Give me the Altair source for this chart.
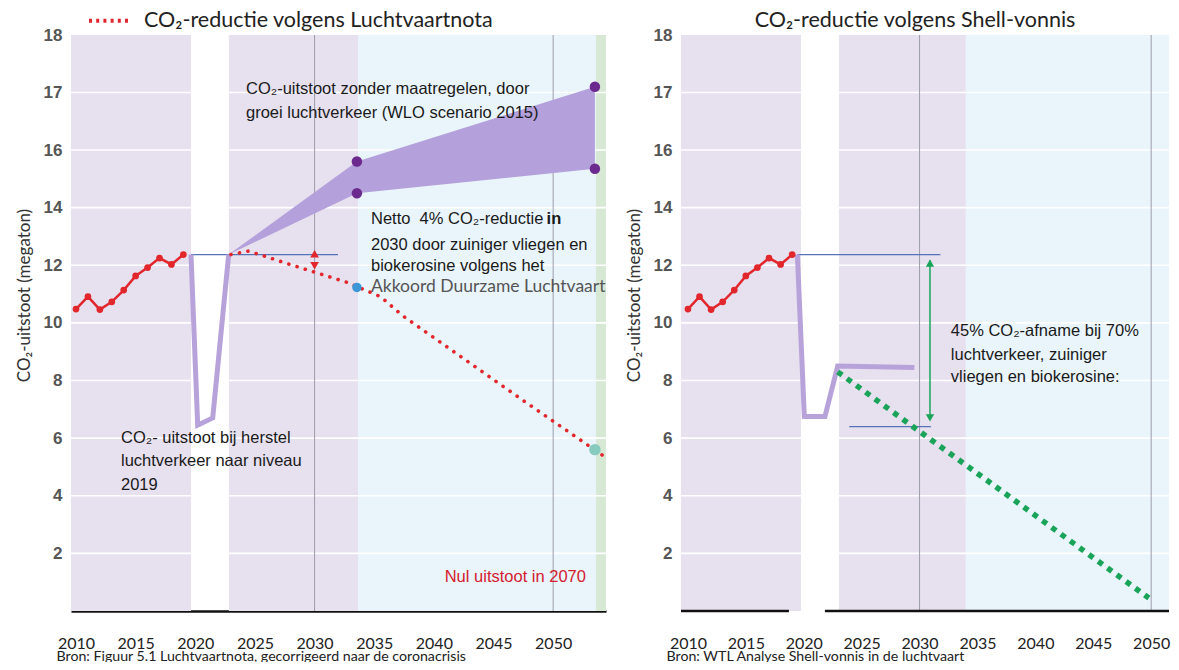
import altair as alt
import pandas as pd

# ---------------- data ----------------
hist_years = [2010, 2011, 2012, 2013, 2014, 2015, 2016, 2017, 2018, 2019]
hist_co2 = [10.48, 10.91, 10.46, 10.73, 11.14, 11.63, 11.92, 12.25, 12.03, 12.37]

y_ticks = [2, 4, 6, 8, 10, 12, 14, 16, 17, 18]
grid_vals = [2, 4, 6, 8, 10, 12, 14, 16, 17]
x_ticks = [2010, 2015, 2020, 2025, 2030, 2035, 2040, 2045, 2050]
ref_years = [2030, 2050]

# left panel (Luchtvaartnota)
L_band_start = [2009.58, 2022.82, 2033.64, 2053.59]
L_band_end = [2019.64, 2033.64, 2053.59, 2054.43]
L_band_kind = ["paars", "paars", "blauw", "groen"]
L_dip_years = [2019.64, 2020.2, 2021.46, 2022.8]
L_dip_co2 = [12.37, 6.45, 6.7, 12.37]
L_ref_years = [2019.64, 2031.96]
L_ref_co2 = [12.37, 12.37]
L_fan_years = [2022.8, 2033.55, 2053.5]
L_fan_low = [12.37, 14.5, 15.35]
L_fan_high = [12.37, 15.6, 17.1]
L_nota_years = [2022.99, 2024.44, 2025.78, 2027.46, 2032.77, 2035.57, 2037.38, 2047.44, 2054.3]
L_nota_co2 = [12.37, 12.49, 12.32, 12.09, 11.4, 10.9, 10.25, 7.32, 5.36]
L_wlo_dot_years = [2033.55, 2033.55, 2053.5, 2053.5]
L_wlo_dot_co2 = [15.6, 14.5, 17.1, 15.35]
L_tri_up = (2030, 12.4)
L_tri_down = (2030, 11.98)
L_adl_dot = (2033.55, 11.23)
L_zero_dot = (2053.5, 5.6)
# legend key (dotted sample + label) of the Luchtvaartnota series, above the plot
L_key_years = [2011.09, 2014.61]
L_key_level = 18.25
L_key_label_year = 2015.7

# right panel (Shell-vonnis)
R_band_start = [2009.4, 2023.04, 2034.0]
R_band_end = [2019.76, 2034.0, 2051.54]
R_band_kind = ["paars", "paars", "blauw"]
R_dip_years = [2019.45, 2020.05, 2021.83, 2022.93, 2029.55]
R_dip_co2 = [12.37, 6.75, 6.75, 8.5, 8.45]
R_ref_top_years = [2019.45, 2031.8]
R_ref_low_years = [2023.93, 2030.98]
R_ref_top = 12.37
R_ref_low = 6.4
R_arrow_year = 2030.9
R_shell_years = [2022.93, 2049.8]
R_shell_co2 = [8.3, 0.45]
R_base_start = [2009.4, 2021.83]
R_base_end = [2018.72, 2051.54]

# annotations
title_L = "CO₂-reductie volgens Luchtvaartnota"
title_R = "CO₂-reductie volgens Shell-vonnis"
src_L = "Bron:  Figuur 5.1 Luchtvaartnota, gecorrigeerd naar de coronacrisis"
src_R = "Bron:  WTL  Analyse Shell-vonnis in de luchtvaart"
wlo_lines = ["CO₂-uitstoot zonder maatregelen, door", "groei luchtverkeer (WLO scenario 2015)"]
wlo_x, wlo_y = 2024.25, [17.06, 16.64]
netto_lines = ["Netto \u00a04% CO₂-reductie", "2030 door zuiniger vliegen en", "biokerosine volgens het"]
netto_x, netto_y = 2034.73, [13.59, 12.72, 11.97]
netto_bold = ("in", 2049.45, 13.59)
adl_text = ("Akkoord Duurzame Luchtvaart", 2034.73, 11.24)
herstel_lines = ["CO₂- uitstoot bij herstel", "luchtverkeer naar niveau", "2019"]
herstel_x, herstel_y = 2013.77, [6.0, 5.21, 4.38]
nul_text = ("Nul uitstoot in 2070", 2052.75, 1.17)
afname_lines = ["45% CO₂-afname bij 70%", "luchtverkeer, zuiniger", "vliegen en biokerosine:"]
afname_x, afname_y = 2032.7, [9.73, 8.87, 8.13]

# ---------------- styling ----------------
H = 576
W_L, W_R = 535, 488
PURPLE_BG, BLUE_BG, GREEN_BG = "#e7e0ef", "#e9f4fb", "#d7e9d5"
RED = "#e1262c"
ANNOT_FONT = "Liberation Sans"
CAL_FONT = "Lato"
ANNOT_SIZE = 16.5
TITLE_SIZE = 21.5


def yscale():
    return alt.Scale(domain=[0, 16, 18], range=[H, 115, 0], nice=False, zero=False)


def yaxis():
    return alt.Axis(values=y_ticks, title="CO₂-uitstoot (megaton)", grid=False, ticks=False,
                    domain=False, labelFont="Liberation Sans Narrow, Liberation Sans",
                    labelFontWeight="bold", labelFontSize=17, labelColor="#555",
                    labelPadding=9, titleFont=CAL_FONT, titleFontSize=17,
                    titleFontWeight="normal", titleColor="#333", titlePadding=10,
                    titleY=260)


def xaxis(src, show_domain):
    return alt.Axis(values=x_ticks, title=src, grid=False, ticks=False, domain=show_domain,
                    domainColor="#111", domainWidth=2.5, labelFont=CAL_FONT,
                    labelFontSize=16, labelColor="#222", labelPadding=24,
                    labelFlush=False, labelOverlap=False, format="d",
                    titleFont=CAL_FONT, titleFontSize=14.2, titleFontWeight="normal",
                    titleColor="#222", titleAlign="left", titleAnchor="start",
                    titleBaseline="top", titleX=-15, titleY=38)


def panel(domain_x, src, show_domain):
    xs = alt.Scale(domain=domain_x, nice=False, zero=False)
    xa = xaxis(src, show_domain)
    ya = yaxis()

    def X(f):
        return alt.X(f, type="quantitative", scale=xs, axis=xa)

    def Y(f):
        return alt.Y(f, type="quantitative", scale=yscale(), axis=ya)

    return X, Y


def bands(X, Y, starts, ends, kinds):
    df = pd.DataFrame({"x0": starts, "x1": ends, "k": kinds, "y0": 0, "y1": 18})
    return alt.Chart(df).mark_rect().encode(
        x=X("x0"), x2="x1", y=Y("y0"), y2="y1",
        color=alt.Color("k:N", scale=alt.Scale(domain=["paars", "blauw", "groen"],
                                               range=[PURPLE_BG, BLUE_BG, GREEN_BG]),
                        legend=None))


def gridlines(Y):
    return alt.Chart(pd.DataFrame({"v": grid_vals})).mark_rule(
        color="white", strokeWidth=1.6).encode(y=Y("v"))


def vrules(X):
    return alt.Chart(pd.DataFrame({"yr": ref_years})).mark_rule(
        color="#9d9daa", strokeWidth=1).encode(x=X("yr"))


def history(X, Y):
    df = pd.DataFrame({"yr": hist_years, "v": hist_co2})
    base = alt.Chart(df).encode(x=X("yr"), y=Y("v"))
    return base.mark_line(color=RED, strokeWidth=2.5) + base.mark_circle(color=RED, size=45, opacity=1)


def text_block(X, Y, lines, xv, yv, **kw):
    df = pd.DataFrame({"t": lines, "x": [xv] * len(lines), "y": yv})
    return alt.Chart(df).mark_text(align=kw.pop("align", "left"), baseline="middle", **kw).encode(
        x=X("x"), y=Y("y"), text="t:N")


def point(X, Y, xy, **kw):
    df = pd.DataFrame({"x": [xy[0]], "v": [xy[1]]})
    return alt.Chart(df).mark_point(filled=True, opacity=1, **kw).encode(x=X("x"), y=Y("v"))


# ---------------- left panel ----------------
XL, YL = panel([2009.58, 2054.43], src_L, True)

left_layers = [
    bands(XL, YL, L_band_start, L_band_end, L_band_kind),
    gridlines(YL),
    vrules(XL),
    alt.Chart(pd.DataFrame({"yr": L_fan_years, "lo": L_fan_low, "hi": L_fan_high})).mark_area(
        color="#b4a0da", opacity=1).encode(x=XL("yr"), y=YL("lo"), y2="hi"),
    alt.Chart(pd.DataFrame({"yr": L_ref_years, "v": L_ref_co2})).mark_line(
        color="#5673b8", strokeWidth=1.2).encode(x=XL("yr"), y=YL("v")),
    alt.Chart(pd.DataFrame({"yr": L_dip_years, "v": L_dip_co2})).mark_line(
        color="#b8a2da", strokeWidth=5, strokeJoin="miter").encode(x=XL("yr"), y=YL("v")),
    history(XL, YL),
    alt.Chart(pd.DataFrame({"yr": L_nota_years, "v": L_nota_co2})).mark_line(
        color=RED, strokeWidth=3.6, strokeDash=[0.1, 8.5], strokeCap="round").encode(
        x=XL("yr"), y=YL("v")),
    alt.Chart(pd.DataFrame({"yr": L_key_years, "v": [L_key_level] * 2})).mark_line(
        color=RED, strokeWidth=4, strokeDash=[3, 4.2], clip=False).encode(
        x=XL("yr"), y=YL("v")),
    text_block(XL, YL, [title_L], L_key_label_year, [L_key_level], font=CAL_FONT,
               fontSize=TITLE_SIZE, color="#222"),
    alt.Chart(pd.DataFrame({"yr": L_wlo_dot_years, "v": L_wlo_dot_co2})).mark_circle(
        color="#6c2a8e", size=110, opacity=1).encode(x=XL("yr"), y=YL("v")),
    point(XL, YL, L_tri_up, shape="triangle-up", color=RED, size=75),
    point(XL, YL, L_tri_down, shape="triangle-down", color=RED, size=75),
    alt.Chart(pd.DataFrame({"yr": [L_adl_dot[0]], "v": [L_adl_dot[1]]})).mark_circle(
        color="#3c97d6", size=90, opacity=1).encode(x=XL("yr"), y=YL("v")),
    alt.Chart(pd.DataFrame({"yr": [L_zero_dot[0]], "v": [L_zero_dot[1]]})).mark_circle(
        color="#86cbbd", size=130, opacity=1).encode(x=XL("yr"), y=YL("v")),
    text_block(XL, YL, wlo_lines, wlo_x, wlo_y, font=ANNOT_FONT, fontSize=ANNOT_SIZE, color="#1a1a1a"),
    text_block(XL, YL, netto_lines, netto_x, netto_y, font=ANNOT_FONT, fontSize=ANNOT_SIZE, color="#1a1a1a"),
    text_block(XL, YL, [netto_bold[0]], netto_bold[1], [netto_bold[2]], font=ANNOT_FONT,
               fontSize=ANNOT_SIZE, fontWeight="bold", color="#1a1a1a"),
    text_block(XL, YL, [adl_text[0]], adl_text[1], [adl_text[2]], font=CAL_FONT, fontSize=17.5,
               color="#555"),
    text_block(XL, YL, herstel_lines, herstel_x, herstel_y, font=ANNOT_FONT, fontSize=ANNOT_SIZE,
               color="#1a1a1a"),
    text_block(XL, YL, [nul_text[0]], nul_text[1], [nul_text[2]], font=ANNOT_FONT, fontSize=ANNOT_SIZE,
               color="#d4202e", align="right"),
]
left = alt.layer(*left_layers).properties(width=W_L, height=H)

# ---------------- right panel ----------------
XR, YR = panel([2009.4, 2051.54], src_R, False)

right_layers = [
    bands(XR, YR, R_band_start, R_band_end, R_band_kind),
    gridlines(YR),
    vrules(XR),
    alt.Chart(pd.DataFrame({"x0": R_base_start, "x1": R_base_end, "v": 0})).mark_rule(
        color="#111", strokeWidth=2.5).encode(x=XR("x0"), x2="x1", y=YR("v")),
    alt.Chart(pd.DataFrame({"x0": R_ref_top_years[:1] + R_ref_low_years[:1],
                            "x1": R_ref_top_years[1:] + R_ref_low_years[1:],
                            "v": [R_ref_top, R_ref_low]})).mark_rule(
        color="#5673b8", strokeWidth=1.2).encode(x=XR("x0"), x2="x1", y=YR("v")),
    alt.Chart(pd.DataFrame({"yr": R_dip_years, "v": R_dip_co2})).mark_line(
        color="#b8a2da", strokeWidth=5, strokeJoin="miter").encode(x=XR("yr"), y=YR("v")),
    history(XR, YR),
    alt.Chart(pd.DataFrame({"yr": R_shell_years, "v": R_shell_co2})).mark_line(
        color="#1aa45a", strokeWidth=5.5, strokeDash=[5.5, 6]).encode(x=XR("yr"), y=YR("v")),
    alt.Chart(pd.DataFrame({"x": [R_arrow_year], "a": [R_ref_top - 0.2], "b": [R_ref_low + 0.3]})).mark_rule(
        color="#1aa45a", strokeWidth=1.5).encode(x=XR("x"), y=YR("a"), y2="b"),
    point(XR, YR, (R_arrow_year, R_ref_top - 0.3), shape="triangle-up", color="#1aa45a", size=70),
    point(XR, YR, (R_arrow_year, R_ref_low + 0.3), shape="triangle-down", color="#1aa45a", size=70),
    text_block(XR, YR, afname_lines, afname_x, afname_y, font=ANNOT_FONT, fontSize=ANNOT_SIZE,
               color="#1a1a1a"),
]
right = alt.layer(*right_layers).properties(
    width=W_R, height=H,
    title=alt.TitleParams(title_R, font=CAL_FONT, fontSize=TITLE_SIZE, fontWeight="normal",
                          color="#222", anchor="middle", dx=-10, offset=-5))

chart = alt.hconcat(left, right, spacing=75, bounds="flush").configure_view(
    stroke=None).properties(padding={"left": 7, "top": 1, "right": 0, "bottom": -2})

chart.save("out.html", embed_options={"renderer": "svg", "actions": False})
